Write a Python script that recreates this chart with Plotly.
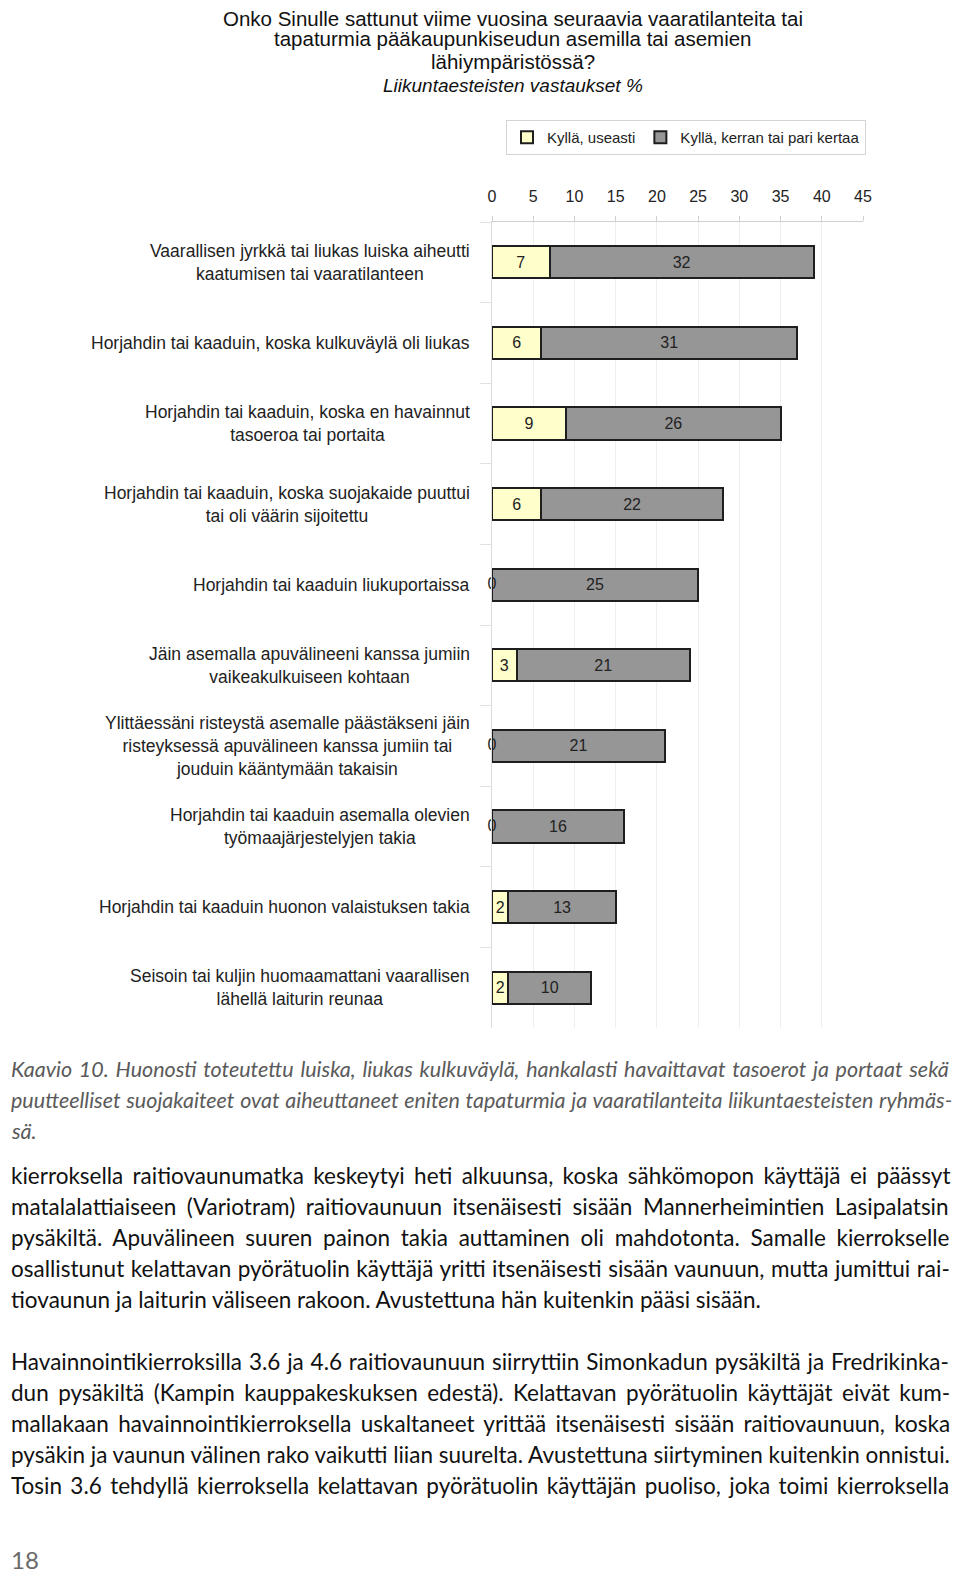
import plotly.graph_objects as go

# ---------------- data ----------------
categories = [
    "Vaarallisen jyrkkä tai liukas luiska aiheutti<br>kaatumisen tai vaaratilanteen",
    "Horjahdin tai kaaduin, koska kulkuväylä oli liukas",
    "Horjahdin tai kaaduin, koska en havainnut<br>tasoeroa tai portaita",
    "Horjahdin tai kaaduin, koska suojakaide puuttui<br>tai oli väärin sijoitettu",
    "Horjahdin tai kaaduin liukuportaissa",
    "Jäin asemalla apuvälineeni kanssa jumiin<br>vaikeakulkuiseen kohtaan",
    "Ylittäessäni risteystä asemalle päästäkseni jäin<br>risteyksessä apuvälineen kanssa jumiin tai<br>jouduin kääntymään takaisin",
    "Horjahdin tai kaaduin asemalla olevien<br>työmaajärjestelyjen takia",
    "Horjahdin tai kaaduin huonon valaistuksen takia",
    "Seisoin tai kuljin huomaamattani vaarallisen<br>lähellä laiturin reunaa",
]
useasti = [7, 6, 9, 6, 0, 3, 0, 0, 2, 2]
kerran = [32, 31, 26, 22, 25, 21, 21, 16, 13, 10]
series_names = ["Kyllä, useasti", "Kyllä, kerran tai pari kertaa"]
x_ticks = [0, 5, 10, 15, 20, 25, 30, 35, 40, 45]

title_lines = [
    "Onko Sinulle sattunut viime vuosina seuraavia vaaratilanteita tai",
    "tapaturmia pääkaupunkiseudun asemilla tai asemien",
    "lähiympäristössä?",
]
subtitle = "Liikuntaesteisten vastaukset %"

caption_lines = [
    "Kaavio 10. Huonosti toteutettu luiska, liukas kulkuväylä, hankalasti havaittavat tasoerot ja portaat sekä",
    "puutteelliset suojakaiteet ovat aiheuttaneet eniten tapaturmia ja vaaratilanteita liikuntaesteisten ryhmäs-",
    "sä.",
]
para1_lines = [
    "kierroksella raitiovaunumatka keskeytyi heti alkuunsa, koska sähkömopon käyttäjä ei päässyt",
    "matalalattiaiseen (Variotram) raitiovaunuun itsenäisesti sisään Mannerheimintien Lasipalatsin",
    "pysäkiltä. Apuvälineen suuren painon takia auttaminen oli mahdotonta. Samalle kierrokselle",
    "osallistunut kelattavan pyörätuolin käyttäjä yritti itsenäisesti sisään vaunuun, mutta jumittui rai-",
    "tiovaunun ja laiturin väliseen rakoon. Avustettuna hän kuitenkin pääsi sisään.",
]
para2_lines = [
    "Havainnointikierroksilla 3.6 ja 4.6 raitiovaunuun siirryttiin Simonkadun pysäkiltä ja Fredrikinka-",
    "dun pysäkiltä (Kampin kauppakeskuksen edestä). Kelattavan pyörätuolin käyttäjät eivät kum-",
    "mallakaan havainnointikierroksella uskaltaneet yrittää itsenäisesti sisään raitiovaunuun, koska",
    "pysäkin ja vaunun välinen rako vaikutti liian suurelta. Avustettuna siirtyminen kuitenkin onnistui.",
    "Tosin 3.6 tehdyllä kierroksella kelattavan pyörätuolin käyttäjän puoliso, joka toimi kierroksella",
]
page_number = "18"

# word spacing (px) used to justify each printed line (0 = last line of paragraph)
caption_ws = [1.7, 0.7, 0]
para1_ws = [3.6, 4.8, 4.9, 0.8, 0]
para2_ws = [1.1, 3.7, 3.6, 0, 2.6]

# ---------------- layout constants (page pixel coordinates) ----------------
OFF = 8                      # the html page body offsets the figure by 8 px
W, H = 960 - 2 * OFF, 1584 - 2 * OFF
PL, PR, PT, PB = 491.7, 863, 222, 1028   # plot area in page pixels
CHART_FONT = "Liberation Sans, Arial, sans-serif"
BODY_FONT = "Lato, Carlito, Calibri, sans-serif"


def px_x(px):
    return (px - PL) / (PR - PL)


def px_y(py):
    return (PB - py) / (PB - PT)


fig = go.Figure()

fig.add_trace(go.Bar(
    y=categories, x=useasti, orientation="h", name=series_names[0],
    marker=dict(color="#FFFFCC", line=dict(color="#1e1e1e", width=2)),
    text=[str(v) if v else "" for v in useasti],
    textposition="inside", insidetextanchor="middle", constraintext="none",
    textangle=0, textfont=dict(family=CHART_FONT, size=16, color="#222"),
    hoverinfo="x+y",
))
fig.add_trace(go.Bar(
    y=categories, x=kerran, orientation="h", name=series_names[1],
    marker=dict(color="#969696", line=dict(color="#1e1e1e", width=2)),
    text=[str(v) for v in kerran],
    textposition="inside", insidetextanchor="middle", constraintext="none",
    textangle=0, textfont=dict(family=CHART_FONT, size=16, color="#222"),
    hoverinfo="x+y",
))
# zero-value labels of the "useasti" series
zero_y = [c for c, v in zip(categories, useasti) if v == 0]
fig.add_trace(go.Scatter(
    y=zero_y, x=[0] * len(zero_y), mode="text", text=["0"] * len(zero_y),
    textposition="middle center", showlegend=False, cliponaxis=False,
    textfont=dict(family=CHART_FONT, size=16, color="#222"), hoverinfo="skip",
))

annotations = []
# category labels (centered lines, right-aligned block)
for c in categories:
    annotations.append(dict(
        xref="paper", yref="y", x=px_x(472), y=c, text=c, showarrow=False,
        xanchor="right", yanchor="middle", align="center",
        font=dict(family=CHART_FONT, size=17.5, color="#222"),
    ))

# title
for i, (t, py) in enumerate(zip(title_lines + [subtitle], [18, 39, 62, 86])):
    annotations.append(dict(
        xref="paper", yref="paper", x=px_x(513), y=px_y(py),
        text=("<i>%s</i>" % t) if i == 3 else t, showarrow=False,
        xanchor="center", yanchor="middle",
        font=dict(family=CHART_FONT, size=20.5 if i < 3 else 19, color="#111"),
    ))


def add_lines(lines, baselines, spacing, size, color, italic=False):
    for t, b, ws in zip(lines, baselines, spacing):
        txt = ("<i>%s</i>" % t) if italic else t
        if ws:
            txt = '<span style="word-spacing:%.1fpx">%s</span>' % (ws, txt)
        annotations.append(dict(
            xref="paper", yref="paper", x=px_x(OFF), y=px_y(b - 0.3 * size),
            text=txt, showarrow=False,
            xanchor="left", yanchor="middle",
            font=dict(family=BODY_FONT, size=size, color=color),
        ))


add_lines(caption_lines, [1075, 1106, 1137], caption_ws, 21.5, "#5a5a5a", italic=True)
add_lines(para1_lines, [1182, 1213, 1244, 1275, 1306], para1_ws, 22.5, "#111")
add_lines(para2_lines, [1368, 1399, 1430, 1461, 1492], para2_ws, 22.5, "#111")

# page number, kept inside the figure's bottom edge
annotations.append(dict(
    xref="paper", yref="paper", x=px_x(OFF), y=px_y(1575.5),
    text=page_number, showarrow=False, xanchor="left", yanchor="bottom",
    font=dict(family=BODY_FONT, size=24, color="#6a6a6a"),
))

fig.update_layout(
    width=W, height=H,
    margin=dict(l=PL - OFF, r=W - (PR - OFF), t=PT - OFF, b=H - (PB - OFF),
                pad=0, autoexpand=False),
    paper_bgcolor="white", plot_bgcolor="white",
    barmode="stack", bargap=0.6,
    font=dict(family=CHART_FONT, color="#222"),
    showlegend=True,
    legend=dict(
        orientation="h", x=px_x(866), xanchor="right", y=px_y(120), yanchor="top",
        bordercolor="#d4d4d4", borderwidth=1, bgcolor="white",
        font=dict(family=CHART_FONT, size=15, color="#222"),
        itemwidth=30, traceorder="normal",
    ),
    xaxis=dict(
        side="top", range=[0, 45], tickvals=x_ticks,
        showgrid=True, gridcolor="#eeeeee", gridwidth=1,
        showline=True, linecolor="#d0d0d0", linewidth=1,
        ticks="outside", ticklen=5, tickcolor="#d0d0d0",
        tickfont=dict(family=CHART_FONT, size=16, color="#222"),
        ticklabelstandoff=8, zeroline=False, fixedrange=True,
    ),
    yaxis=dict(
        categoryorder="array", categoryarray=categories, range=[9.5, -0.5],
        showticklabels=False, ticks="outside", tickson="boundaries",
        ticklen=11, tickcolor="#e2e2e2", showline=True, linecolor="#dddddd",
        showgrid=False, zeroline=False, fixedrange=True,
    ),
    annotations=annotations,
)

fig.write_html("out.html")
